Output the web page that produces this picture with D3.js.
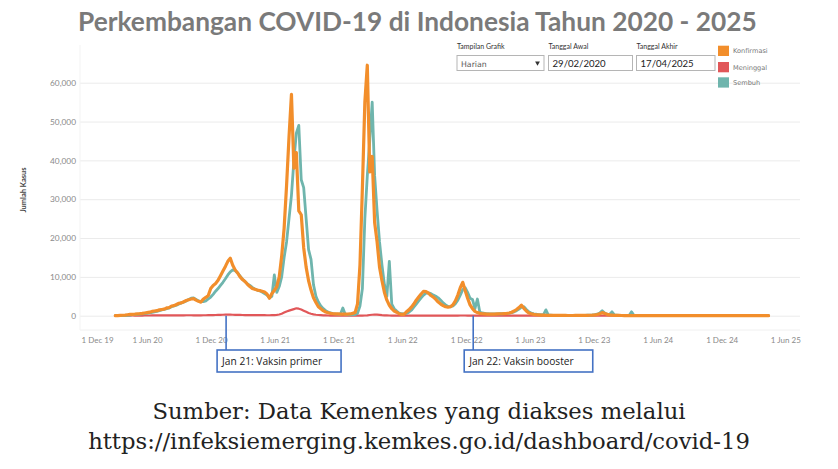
<!DOCTYPE html>
<html>
<head>
<meta charset="utf-8">
<script src="https://d3js.org/d3.v7.min.js"></script>
<style>
  body { margin: 0; background: #fff; }
  svg { display: block; }
</style>
</head>
<body>
<svg width="838" height="469"></svg>
<script>
// ---- data (one value per week starting 2 Mar 2020) ----
var judul = "Perkembangan COVID-19 di Indonesia Tahun 2020 - 2025";
var seriNama = ["Konfirmasi", "Meninggal", "Sembuh"];
var seriWarna = ["#F28E2B", "#E15759", "#6FB5AD"];
var tanggalMulai = "2020-03-02";

var konfirmasi = [
  10, 30, 80, 110, 150, 250, 330, 350, 400, 480, 520, 600, 700,
  800, 900, 1100, 1200, 1300, 1500, 1600, 1700, 2000, 2100, 2500, 2600, 2900,
  3200, 3300, 3600, 3900, 4100, 4300, 4400, 4000, 3700, 3500, 4300, 4700, 5200,
  7000, 7800, 8300, 9100, 10300, 11500, 12700, 14000, 14800, 13000, 11800, 11000, 10000,
  9300, 8800, 8100, 7500, 7000, 6800, 6600, 6500, 6300, 6100, 5600, 4500, 5700,
  6500, 7500, 10000, 15300, 22500, 33500, 46000, 57000, 38000, 42000, 27000, 26000, 17500,
  12500, 9000, 6600, 4600, 3400, 2300, 1800, 1300, 950, 750, 600, 500, 450,
  450, 400, 400, 400, 400, 450, 600, 800, 3000, 13000, 33000, 55000, 64500,
  37000, 41000, 24000, 19000, 12500, 9000, 6000, 4000, 2700, 1800, 1200, 900, 500,
  350, 350, 1000, 1500, 2200, 3000, 4000, 4800, 5600, 6300, 6200, 5800, 5200,
  4800, 4200, 3500, 3000, 2600, 2300, 2200, 2300, 2800, 3800, 5300, 7200, 8600,
  6500, 4500, 2800, 1800, 1100, 800, 600, 500, 450, 400, 400, 400, 400,
  450, 500, 500, 550, 600, 700, 900, 1200, 1600, 2100, 2700, 1900, 1200,
  700, 500, 350, 250, 200, 150, 150, 120, 100, 100, 80, 80, 70,
  70, 60, 60, 50, 50, 50, 60, 60, 70, 80, 90, 100, 120,
  150, 200, 300, 500, 800, 600, 350, 200, 150, 100, 80, 60, 50,
  40, 40, 30, 30, 30, 30, 25, 20, 20, 25, 20, 20, 20,
  20, 25, 20, 20, 15, 20, 20, 25, 20, 20, 20, 15, 20,
  20, 20, 15, 20, 20, 20, 25, 20, 20, 15, 20, 20, 20,
  20, 15, 20, 20, 20, 15, 20, 20, 15, 20, 15, 20, 15,
  15, 15, 20, 15, 15, 15, 15, 15
];

var sembuh = [
  0, 5, 10, 20, 30, 80, 150, 250, 300, 350, 400, 450, 550,
  600, 700, 850, 1000, 1100, 1300, 1500, 1600, 1800, 2000, 2300, 2500, 2700,
  3000, 3300, 3500, 3800, 4200, 4500, 4600, 4200, 3800, 3600, 3600, 3800, 4300,
  4800, 5500, 6300, 7000, 7800, 8600, 9500, 10500, 11300, 11800, 11600, 11000, 10200,
  9400, 8800, 8200, 7800, 7300, 6900, 6600, 6400, 6100, 5700, 5300, 4600, 5000,
  10500, 6000, 7500, 10000, 15000, 19000, 25000, 31000, 40000, 47000, 49000, 35000, 33000,
  25000, 17000, 14500, 8000, 5000, 3500, 2500, 1800, 1300, 900, 700, 550, 450,
  400, 350, 2000, 300, 250, 250, 250, 300, 600, 2500, 7000, 25000, 36000,
  45000, 55000, 36000, 27000, 19000, 13000, 8000, 5000, 14000, 3000, 1800, 1200, 700,
  500, 450, 600, 900, 1400, 2200, 3000, 3800, 4600, 5300, 5800, 5900, 5700,
  5300, 5000, 4600, 4000, 3300, 2800, 2400, 2300, 2500, 3100, 4000, 5300, 6700,
  7200, 6000, 4500, 4200, 1800, 4300, 900, 700, 600, 500, 450, 450, 450,
  450, 500, 500, 550, 600, 650, 800, 1000, 1300, 1700, 2200, 2300, 1600,
  1000, 700, 500, 400, 300, 250, 200, 1500, 150, 120, 100, 100, 90,
  80, 80, 70, 60, 60, 60, 70, 70, 80, 90, 100, 120, 150,
  180, 250, 400, 700, 1300, 700, 400, 300, 1000, 200, 150, 100, 80,
  60, 50, 50, 1000, 40, 30, 30, 30, 20, 20, 20, 20, 20,
  20, 20, 20, 20, 15, 20, 20, 20, 20, 20, 20, 15, 20,
  20, 20, 15, 20, 20, 20, 20, 20, 20, 15, 20, 20, 20,
  20, 15, 20, 20, 20, 15, 20, 20, 15, 20, 15, 20, 15,
  15, 15, 20, 15, 15, 15, 15, 15
];

var meninggal = [
  0, 0, 5, 10, 20, 30, 40, 45, 40, 35, 40, 40, 45,
  50, 55, 60, 60, 65, 70, 75, 80, 80, 85, 85, 90, 95,
  100, 100, 105, 110, 115, 110, 100, 95, 95, 100, 110, 120, 130,
  140, 160, 180, 200, 220, 240, 260, 270, 260, 240, 220, 200, 190,
  180, 170, 160, 150, 150, 140, 140, 130, 130, 130, 120, 120, 130,
  150, 200, 300, 500, 800, 1100, 1300, 1500, 1700, 1900, 1800, 1600, 1300,
  1000, 700, 500, 350, 250, 180, 130, 90, 70, 50, 30, 20, 15,
  10, 10, 8, 8, 8, 10, 10, 10, 15, 20, 30, 50, 100,
  180, 250, 300, 280, 220, 150, 100, 70, 50, 40, 30, 20, 15,
  15, 15, 15, 20, 20, 25, 30, 30, 30, 30, 30, 30, 25,
  25, 20, 20, 20, 20, 20, 20, 20, 25, 30, 40, 45, 50,
  45, 40, 30, 25, 20, 15, 12, 10, 10, 10, 10, 10, 10,
  10, 10, 10, 10, 12, 15, 20, 25, 30, 30, 25, 20, 15,
  10, 8, 5, 5, 5, 4, 4, 4, 3, 3, 3, 3, 3,
  3, 3, 3, 3, 3, 3, 3, 3, 3, 3, 3, 3, 3,
  3, 3, 4, 5, 5, 4, 3, 3, 3, 3, 2, 2, 2,
  2, 2, 2, 2, 2, 2, 2, 2, 2, 2, 2, 2, 2,
  2, 2, 2, 2, 2, 2, 2, 2, 2, 2, 2, 2, 2,
  2, 2, 2, 2, 2, 2, 2, 2, 2, 2, 2, 2, 2,
  2, 2, 2, 2, 2, 2, 2, 2, 2, 2, 2, 2, 2,
  1, 1, 1, 1, 1, 1, 1, 1
];

var yTicks = [0, 10000, 20000, 30000, 40000, 50000, 60000];
var xAwal = "2019-11-22", xAkhir = "2025-07-13";

// kontrol & anotasi
var kontrolLabel = ["Tampilan Grafik", "Tanggal Awal", "Tanggal Akhir"];
var kontrolNilai = ["Harian", "29/02/2020", "17/04/2025"];
var vaksinTanggal = ["2021-01-13", "2022-12-21"];
var vaksinTeks = ["Jan 21: Vaksin primer", "Jan 22: Vaksin booster"];
var sumber = ["Sumber: Data Kemenkes yang diakses melalui",
              "https://infeksiemerging.kemkes.go.id/dashboard/covid-19"];

// ---- gambar ----
var parse = d3.timeParse("%Y-%m-%d");
var svg = d3.select("svg");
var W = 838;

var x = d3.scaleTime().domain([parse(xAwal), parse(xAkhir)]).range([80, 800]);
var y = d3.scaleLinear().domain([0, 60000]).range([315.7, 82.7]);

var mulai = parse(tanggalMulai);
function keSeri(arr) {
  return arr.map(function(v, i) { return {date: d3.timeDay.offset(mulai, 7 * i), v: v}; });
}

// judul
var t = svg.append("text")
  .attr("x", 78).attr("y", 31)
  .attr("font-family", "Lato, 'Open Sans', sans-serif")
  .attr("font-weight", "bold")
  .attr("font-size", 28)
  .attr("fill", "#7a7a7a")
  .text(judul);
var tl = t.node().getComputedTextLength();
t.attr("font-size", 28 * 679 / tl);

// grid
svg.append("g")
  .attr("transform", "translate(80,0)")
  .call(d3.axisLeft(y).tickValues(yTicks).tickSize(-720).tickFormat(""))
  .call(function(g) {
    g.select(".domain").remove();
    g.selectAll("line").attr("stroke", "#ebebeb");
  });
svg.append("line").attr("x1", 80).attr("x2", 800).attr("y1", 330).attr("y2", 330).attr("stroke", "#f0f0f0");
svg.append("line").attr("x1", 80).attr("x2", 80).attr("y1", 45).attr("y2", 330).attr("stroke", "#f3f3f3");

// sumbu y
svg.append("g")
  .attr("transform", "translate(76,0)")
  .call(d3.axisLeft(y).tickValues(yTicks).tickSize(0).tickPadding(0).tickFormat(d3.format(",")))
  .call(function(g) {
    g.select(".domain").remove();
    g.selectAll("text").attr("font-family", "Lato, sans-serif").attr("font-size", 8.3).attr("fill", "#8a8a8a");
  });

svg.append("text")
  .attr("transform", "translate(26,190) rotate(-90)")
  .attr("text-anchor", "middle")
  .attr("font-family", "Lato, sans-serif")
  .attr("font-size", 7.5)
  .attr("font-weight", "bold")
  .attr("fill", "#444")
  .text("Jumlah Kasus");

// sumbu x
var xTicks = d3.timeMonth.range(parse("2019-12-01"), parse("2025-06-02"))
  .filter(function(d) { return d.getMonth() == 11 || d.getMonth() == 5; });
var gx = svg.append("g")
  .attr("transform", "translate(0,331)")
  .call(d3.axisBottom(x).tickValues(xTicks).tickSize(0).tickPadding(6).tickFormat(d3.timeFormat("1 %b %y")));
gx.select(".domain").remove();
gx.selectAll("text").attr("font-family", "Lato, sans-serif").attr("font-size", 8).attr("fill", "#8a8a8a");
gx.select(".tick text").attr("text-anchor", "start").attr("x", 81 - x(xTicks[0]));

// garis data
var line = d3.line().x(function(d) { return x(d.date); }).y(function(d) { return y(d.v); });
var seri = [
  {data: keSeri(meninggal), warna: seriWarna[1], w: 2.2},
  {data: keSeri(sembuh), warna: seriWarna[2], w: 2.8},
  {data: keSeri(konfirmasi), warna: seriWarna[0], w: 3.2}
];
seri.forEach(function(s) {
  svg.append("path")
    .datum(s.data)
    .attr("d", line)
    .attr("fill", "none")
    .attr("stroke", s.warna)
    .attr("stroke-width", s.w)
    .attr("stroke-linejoin", "round")
    .attr("stroke-linecap", "round");
});

// kontrol
var kx = [457, 548.5, 636.5], kw = [87, 84, 78.5];
kontrolLabel.forEach(function(l, i) {
  svg.append("text").attr("x", kx[i]).attr("y", 48.5)
    .attr("font-family", "Lato, sans-serif").attr("font-size", 7).attr("fill", "#333").text(l);
  svg.append("rect").attr("x", kx[i]).attr("y", 55.5).attr("width", kw[i]).attr("height", 15)
    .attr("fill", "#fff").attr("stroke", "#b5b5b5").attr("stroke-width", 1);
  svg.append("text").attr("x", kx[i] + 4).attr("y", 66.5)
    .attr("font-family", i == 0 ? "'DejaVu Sans', sans-serif" : "Lato, sans-serif")
    .attr("font-size", i == 0 ? 7.8 : 9.6)
    .attr("fill", i == 0 ? "#555" : "#222")
    .text(kontrolNilai[i]);
});
svg.append("path")
  .attr("d", d3.symbol(d3.symbolTriangle, 10)())
  .attr("transform", "translate(537.5,63) rotate(180)")
  .attr("fill", "#333");

// legenda
var legY = [45.7, 62, 77.3];
var legUrut = [0, 1, 2];
legUrut.forEach(function(j, i) {
  svg.append("rect").attr("x", 718).attr("y", legY[i]).attr("width", 11).attr("height", 10.3).attr("fill", seriWarna[j]);
  svg.append("text").attr("x", 733).attr("y", legY[i] + 7.5)
    .attr("font-family", "'DejaVu Sans', sans-serif").attr("font-size", 6.6).attr("fill", "#777").text(seriNama[j]);
});

// anotasi vaksin
vaksinTanggal.forEach(function(d, i) {
  var vx = x(parse(d));
  svg.append("line").attr("x1", vx).attr("x2", vx).attr("y1", y(0)).attr("y2", 350)
    .attr("stroke", "#4472C4").attr("stroke-width", 1.6);
  var g = svg.append("g");
  var r = g.append("rect").attr("x", vx - 9).attr("y", 350).attr("height", 22)
    .attr("fill", "#fff").attr("stroke", "#4472C4").attr("stroke-width", 1.6);
  var tx = g.append("text").attr("x", vx - 4).attr("y", 365)
    .attr("font-family", "'Open Sans', sans-serif").attr("font-size", 10.2).attr("fill", "#222")
    .text(vaksinTeks[i]);
  r.attr("width", tx.node().getComputedTextLength() + 24);
});

// sumber
var s2 = svg.append("text").attr("x", W / 2).attr("y", 449).attr("text-anchor", "middle")
  .attr("font-family", "'DejaVu Serif', serif").attr("font-size", 20).attr("fill", "#222").text(sumber[1]);
var fs = 20 * 662 / s2.node().getComputedTextLength();
s2.attr("font-size", fs);
svg.append("text").attr("x", W / 2).attr("y", 419).attr("text-anchor", "middle")
  .attr("font-family", "'DejaVu Serif', serif").attr("font-size", fs).attr("fill", "#222").text(sumber[0]);
</script>
</body>
</html>
